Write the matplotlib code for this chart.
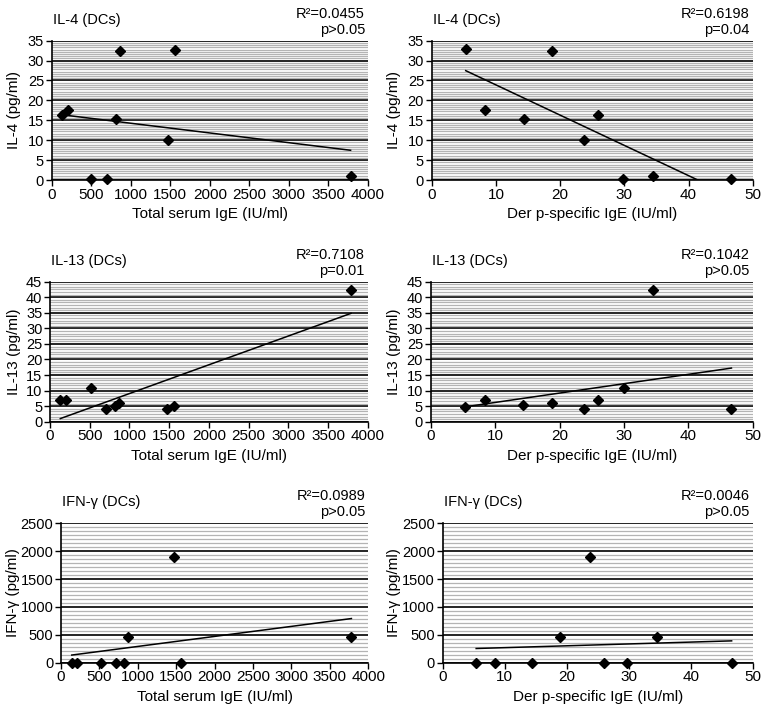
import numpy as np
import matplotlib
matplotlib.use("Agg")
import matplotlib.pyplot as plt
from matplotlib.ticker import MultipleLocator, AutoMinorLocator

plt.rcParams['font.family'] = ['Liberation Sans', 'DejaVu Sans']

# ---- data ----
total_ige_il4 = [130, 200, 500, 700, 810, 860, 1470, 1560, 3780]
il4_total = [16.3, 17.7, 0.2, 0.2, 15.3, 32.5, 10.1, 32.6, 1.0]

derp_il4 = [5.3, 8.3, 14.3, 18.8, 23.7, 25.9, 29.8, 34.4, 46.6]
il4_derp = [32.8, 17.6, 15.3, 32.5, 10.1, 16.3, 0.2, 1.1, 0.2]

total_ige_il13 = [130, 200, 510, 710, 820, 870, 1470, 1560, 3790]
il13_total = [7.0, 6.9, 10.8, 4.0, 5.2, 6.1, 4.0, 4.9, 42.3]

derp_il13 = [5.3, 8.4, 14.4, 18.9, 23.8, 26.0, 30.0, 34.5, 46.7]
il13_derp = [4.8, 7.0, 5.3, 6.1, 4.0, 7.0, 10.7, 42.3, 4.0]

total_ige_ifn = [140, 210, 520, 710, 820, 870, 1470, 1560, 3780]
ifn_total = [0, 0, 0, 0, 0, 460, 1900, 0, 460]

derp_ifn = [5.4, 8.4, 14.4, 18.9, 23.7, 26.0, 29.8, 34.5, 46.6]
ifn_derp = [0, 0, 0, 460, 1900, 0, 0, 460, 0]

titles = ["IL-4 (DCs)", "IL-4 (DCs)", "IL-13 (DCs)", "IL-13 (DCs)", "IFN-γ (DCs)", "IFN-γ (DCs)"]
ylabels = ["IL-4 (pg/ml)", "IL-4 (pg/ml)", "IL-13 (pg/ml)", "IL-13 (pg/ml)", "IFN-γ (pg/ml)", "IFN-γ (pg/ml)"]
xlabels = ["Total serum IgE (IU/ml)", "Der p-specific IgE (IU/ml)"] * 3
r2_texts = ["R²=0.0455", "R²=0.6198", "R²=0.7108", "R²=0.1042", "R²=0.0989", "R²=0.0046"]
p_texts = ["p>0.05", "p=0.04", "p=0.01", "p>0.05", "p>0.05", "p>0.05"]

xs = [total_ige_il4, derp_il4, total_ige_il13, derp_il13, total_ige_ifn, derp_ifn]
ys = [il4_total, il4_derp, il13_total, il13_derp, ifn_total, ifn_derp]

# ---- layout (pixels) ----
W, H = 765, 711
rects_px = [
    (51.7, 368.0, 40.7, 180.0),
    (431.7, 752.7, 40.7, 180.0),
    (50.0, 367.7, 281.7, 421.7),
    (430.7, 752.7, 281.7, 421.7),
    (61.0, 368.3, 523.3, 662.7),
    (442.7, 752.7, 523.3, 662.7),
]
ylabel_right_px = [21, 401, 21, 401, 20, 401]
xlims = [(0, 4000, 500), (0, 50, 10)] * 3
ylims = [(0, 35, 5, 9), (0, 35, 5, 9), (0, 45, 5, 6), (0, 45, 5, 6), (0, 2500, 500, 7), (0, 2500, 500, 7)]

fig = plt.figure(figsize=(W / 100, H / 100), dpi=100)

for i in range(6):
    l, r, t, b = rects_px[i]
    ax = fig.add_axes([l / W, 1 - b / H, (r - l) / W, (b - t) / H])
    x0, x1, xs_step = xlims[i]
    y0, y1, ys_step, nminor = ylims[i]
    ax.set_xlim(x0, x1)
    ax.set_ylim(y0, y1)
    ax.xaxis.set_major_locator(MultipleLocator(xs_step))
    ax.yaxis.set_major_locator(MultipleLocator(ys_step))
    ax.yaxis.set_minor_locator(AutoMinorLocator(nminor))
    ax.set_axisbelow(True)
    ax.grid(axis='y', which='minor', color='#b4b4b4', lw=0.9)
    ax.grid(axis='y', which='major', color='black', lw=1.2)
    ax.tick_params(axis='y', which='minor', length=0)
    ax.tick_params(axis='both', which='major', direction='out', length=4, width=1, pad=1.5)
    ax.tick_params(axis='x', labelsize=11)
    ax.tick_params(axis='y', labelsize=10.5)
    for s in ['top', 'right']:
        ax.spines[s].set_visible(False)
    for s in ['left', 'bottom']:
        ax.spines[s].set_linewidth(1.2)

    x = np.array(xs[i], dtype=float)
    y = np.array(ys[i], dtype=float)
    slope, intercept = np.polyfit(x, y, 1)
    xx = np.array([x.min(), x.max()])
    ax.plot(xx, slope * xx + intercept, color='black', lw=1.1, zorder=3)
    ax.plot(x, y, 'D', color='black', ms=5, zorder=4, clip_on=False)

    ax.set_xlabel(xlabels[i], fontsize=11, labelpad=4)
    ax.set_ylabel(ylabels[i], fontsize=11)
    ax.yaxis.set_label_coords((ylabel_right_px[i] - l) / (r - l), 0.5)

    # titles and stats text
    ax.text(0.0 + 1 / (r - l), 1 + 21 / (b - t), titles[i], transform=ax.transAxes,
            ha='left', va='center', fontsize=10.5)
    ax.text(1 - 3 / (r - l), 1 + 27 / (b - t), r2_texts[i], transform=ax.transAxes,
            ha='right', va='center', fontsize=10.5)
    ax.text(1 - 3 / (r - l), 1 + 11 / (b - t), p_texts[i], transform=ax.transAxes,
            ha='right', va='center', fontsize=10.5)

fig.savefig("out.png", dpi=100)
